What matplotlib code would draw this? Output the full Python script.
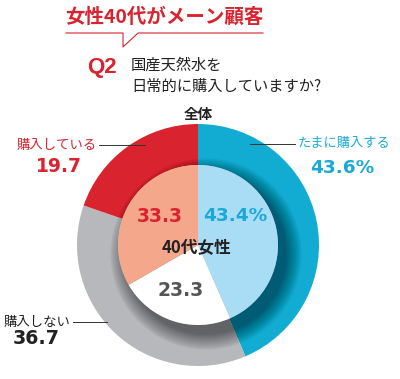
import matplotlib.pyplot as plt
from matplotlib.patches import Circle

plt.rcParams['font.family'] = ['Noto Sans CJK JP', 'DejaVu Sans']

# 全体 (外側リング) と 40代女性 (内側)
outer_labels = ["たまに購入する", "購入しない", "購入している"]
outer_vals = [43.6, 36.7, 19.7]
outer_cols = ["#12acd3", "#b6b8bc", "#d9232e"]

inner_vals = [43.4, 23.3, 33.3]
inner_cols = ["#a9ddf6", "#ffffff", "#f5a78b"]

W, H = 400, 379
fig = plt.figure(figsize=(W / 100, H / 100), dpi=100)
ax = fig.add_axes([0, 0, 1, 1])


def Y(y):
    # ピクセル座標(上から)をデータ座標へ
    return H - y


cx, cy = 198, Y(245)
R_out, R_in = 121, 80

ax.pie(outer_vals, colors=outer_cols, startangle=90, counterclock=False,
       radius=R_out, center=(cx, cy), wedgeprops=dict(width=R_out - R_in, linewidth=0))

# 内側の円が落とす影 (右下寄り、ぼかし)
n = 40
for i in range(n):
    r = R_in + 16 * (1 - i / n)
    ax.add_patch(Circle((cx + 8, cy - 9), r, color='black', alpha=0.01, lw=0, zorder=1.5))

ax.pie(inner_vals, colors=inner_cols, startangle=90, counterclock=False,
       radius=R_in, center=(cx, cy), wedgeprops=dict(linewidth=0, zorder=2))

ax.set_xlim(0, W)
ax.set_ylim(0, H)
ax.set_aspect('auto')
ax.axis('off')

red = "#d9232e"
blue = "#1aa9d6"
dark = "#222222"
num = ['DejaVu Sans']

# タイトル
ax.text(164, Y(17), "女性40代がメーン顧客", color=red, fontsize=14, fontweight='bold',
        ha='center', va='center')
ax.plot([66, 123, 123, 138, 263], [Y(33), Y(33), Y(47), Y(33), Y(33)], color=red, lw=0.8)

ax.text(102, Y(67), "Q2", color=red, fontsize=16, fontweight='bold', family=['Liberation Sans'],
        ha='center', va='center')
ax.text(131, Y(65), "国産天然水を", color=dark, fontsize=11, ha='left', va='center')
ax.text(131, Y(86), "日常的に購入していますか?", color=dark, fontsize=11, ha='left', va='center')
ax.text(198, Y(114), "全体", color=dark, fontsize=10.5, fontweight='bold', ha='center', va='center')

# 外側ラベル
ax.text(57, Y(145), outer_labels[2], color=red, fontsize=9.6, ha='center', va='center')
ax.plot([99, 145], [Y(145), Y(145)], color='#333333', lw=0.7)
ax.text(59, Y(166), f"{outer_vals[2]}", color=red, fontsize=13.5, fontweight='bold', family=num,
        ha='center', va='center')

ax.text(344, Y(144), outer_labels[0], color=blue, fontsize=9.5, ha='center', va='center')
ax.plot([250, 295], [Y(144), Y(144)], color='#333333', lw=0.7)
ax.text(342, Y(168), f"{outer_vals[0]}%", color=blue, fontsize=13.3, fontweight='bold', family=num,
        ha='center', va='center')

ax.text(37, Y(322), outer_labels[1], color=dark, fontsize=9.6, ha='center', va='center')
ax.plot([73, 107], [Y(322), Y(322)], color='#333333', lw=0.7)
ax.text(36, Y(338), f"{outer_vals[1]}", color=dark, fontsize=13.7, fontweight='bold', family=num,
        ha='center', va='center')

# 内側ラベル
ax.text(160, Y(216), f"{inner_vals[2]}", color=red, fontsize=13.4, fontweight='bold', family=num,
        ha='center', va='center')
ax.text(235, Y(216), f"{inner_vals[0]}%", color=blue, fontsize=13.3, fontweight='bold', family=num,
        ha='center', va='center')
ax.text(196, Y(248), "40代女性", color=dark, fontsize=12, fontweight='bold', ha='center', va='center')
ax.text(181, Y(291), f"{inner_vals[1]}", color='#555555', fontsize=13.5, fontweight='bold', family=num,
        ha='center', va='center')

fig.savefig("out.png", dpi=100)
